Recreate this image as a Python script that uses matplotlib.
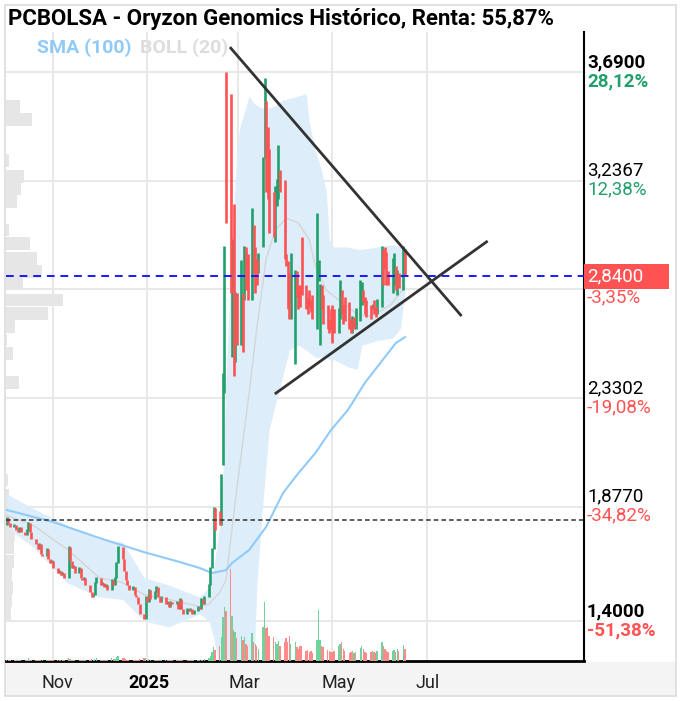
import pandas as pd
import numpy as np
import matplotlib.pyplot as plt
from matplotlib.patches import Rectangle
from matplotlib.transforms import blended_transform_factory

plt.rcParams['font.family'] = ['Roboto', 'DejaVu Sans']

# daily candles, Oct 2 2024 .. Jun 17 2025 (business days)
opens = [
    # Oct
    1.80, 1.83, 1.81, 1.79, 1.80, 1.78, 1.77, 1.79, 1.77, 1.76, 1.78, 1.81, 1.77, 1.74, 1.72, 1.70, 1.72, 1.68, 1.67, 1.70, 1.66, 1.64,
    # Nov
    1.65, 1.62, 1.60, 1.61, 1.59, 1.60, 1.58, 1.71, 1.65, 1.62, 1.63, 1.60, 1.62, 1.58, 1.57, 1.58, 1.55, 1.52, 1.50, 1.51, 1.56,
    # Dec
    1.58, 1.55, 1.56, 1.54, 1.55, 1.53, 1.57, 1.55, 1.58, 1.64, 1.71, 1.66, 1.61, 1.57, 1.55, 1.53, 1.54, 1.51, 1.50, 1.47, 1.43, 1.41,
    # Jan
    1.50, 1.48, 1.53, 1.49, 1.52, 1.54, 1.50, 1.48, 1.50, 1.47, 1.48, 1.46, 1.48, 1.47, 1.48, 1.45, 1.49, 1.45, 1.43, 1.45, 1.44, 1.45, 1.43,
    # Feb
    1.44, 1.46, 1.45, 1.49, 1.47, 1.50, 1.55, 1.62, 1.70, 1.87, 1.86, 1.80, 2.05, 2.35, 3.69, 3.60, 2.50, 3.14, 2.48, 2.77,
    # Mar
    2.55, 2.77, 2.74, 2.96, 2.93, 2.74, 3.05, 2.96, 2.91, 2.85, 2.96, 3.33, 3.57, 3.46, 3.37, 3.19, 2.98, 3.13, 3.16, 3.28, 3.24,
    # Apr
    2.93, 2.90, 2.85, 2.66, 2.47, 2.86, 2.80, 2.80, 3.00, 2.80, 2.75, 2.78, 2.74, 2.76, 2.62, 2.82, 2.55, 2.80, 2.76, 2.72, 2.66, 2.70,
    # May
    2.72, 2.70, 2.60, 2.66, 2.78, 2.72, 2.75, 2.73, 2.66, 2.60, 2.67, 2.62, 2.65, 2.72, 2.78, 2.75, 2.74, 2.72, 2.70, 2.74, 2.71, 2.68,
    # Jun
    2.71, 2.95, 2.96, 2.94, 2.86, 2.77, 2.80, 2.88, 2.76, 2.85, 2.78, 2.95,
]
closes = [
    1.83, 1.81, 1.79, 1.80, 1.78, 1.77, 1.79, 1.77, 1.76, 1.78, 1.81, 1.77, 1.74, 1.72, 1.70, 1.72, 1.68, 1.67, 1.70, 1.66, 1.64, 1.65,
    1.62, 1.60, 1.61, 1.59, 1.60, 1.58, 1.71, 1.65, 1.62, 1.63, 1.60, 1.62, 1.58, 1.57, 1.58, 1.55, 1.52, 1.50, 1.51, 1.56, 1.58,
    1.55, 1.56, 1.54, 1.55, 1.53, 1.57, 1.55, 1.58, 1.64, 1.71, 1.66, 1.61, 1.57, 1.55, 1.53, 1.54, 1.51, 1.50, 1.47, 1.43, 1.41, 1.50,
    1.48, 1.53, 1.49, 1.52, 1.54, 1.50, 1.48, 1.50, 1.47, 1.48, 1.46, 1.48, 1.47, 1.48, 1.45, 1.49, 1.45, 1.43, 1.45, 1.44, 1.45, 1.43, 1.44,
    1.46, 1.45, 1.49, 1.47, 1.50, 1.55, 1.62, 1.70, 1.87, 1.78, 1.80, 2.01, 2.43, 2.96, 3.06, 2.77, 2.99, 2.42, 2.77, 2.55,
    2.90, 2.52, 2.96, 2.78, 2.74, 3.12, 2.85, 2.77, 2.80, 2.93, 3.33, 3.66, 3.19, 3.16, 3.02, 3.00, 3.21, 3.24, 3.38, 3.19, 2.91,
    2.88, 2.70, 2.66, 2.93, 2.86, 2.75, 2.70, 2.71, 2.76, 2.70, 2.68, 2.71, 2.69, 2.66, 3.10, 2.90, 2.80, 2.70, 2.64, 2.62, 2.60, 2.62,
    2.56, 2.60, 2.70, 2.82, 2.68, 2.64, 2.65, 2.62, 2.60, 2.67, 2.62, 2.70, 2.82, 2.81, 2.73, 2.68, 2.67, 2.66, 2.72, 2.68, 2.67, 2.74,
    2.96, 2.80, 2.87, 2.80, 2.80, 2.91, 2.93, 2.78, 2.86, 2.79, 2.96, 2.84,
]
volumes = [  # millions
    0.15, 0.1, 0.12, 0.1, 0.08, 0.1, 0.12, 0.1, 0.1, 0.15, 0.3, 0.12, 0.1, 0.1, 0.12, 0.1, 0.15, 0.1, 0.1, 0.12, 0.1, 0.1,
    0.1, 0.12, 0.1, 0.1, 0.12, 0.1, 0.35, 0.25, 0.12, 0.1, 0.1, 0.1, 0.12, 0.1, 0.1, 0.12, 0.15, 0.2, 0.12, 0.25, 0.3,
    0.15, 0.1, 0.12, 0.1, 0.1, 0.3, 0.2, 0.25, 0.4, 0.5, 0.35, 0.3, 0.2, 0.15, 0.15, 0.1, 0.1, 0.1, 0.1, 0.2, 0.35, 0.3,
    0.15, 0.2, 0.15, 0.1, 0.12, 0.1, 0.1, 0.12, 0.1, 0.1, 0.1, 0.12, 0.1, 0.1, 0.1, 0.15, 0.1, 0.1, 0.12, 0.1, 0.1, 0.12, 0.1,
    0.1, 0.12, 0.15, 0.1, 0.2, 0.35, 0.5, 0.9, 1.4, 1.1, 1.6, 2.5, 4.5, 5.6, 5.2, 9.5, 4.6, 3.2, 3.0, 2.4,
    2.6, 2.2, 2.5, 1.8, 1.6, 2.9, 2.0, 1.8, 1.5, 1.2, 3.5, 6.1, 3.4, 3.5, 2.6, 2.5, 2.0, 1.8, 2.1, 1.5, 2.0,
    2.4, 2.0, 2.6, 1.8, 2.0, 1.4, 1.2, 1.5, 1.6, 1.0, 1.1, 0.9, 1.0, 0.8, 2.2, 5.3, 2.2, 1.6, 1.4, 1.1, 1.0, 0.9,
    0.9, 1.0, 1.5, 1.8, 2.0, 1.2, 1.0, 0.8, 0.9, 1.0, 0.8, 0.9, 1.3, 1.6, 1.2, 0.9, 0.8, 0.9, 1.0, 0.9, 0.8, 1.0,
    2.0, 1.5, 1.2, 1.0, 0.9, 1.0, 1.1, 0.9, 1.2, 1.0, 1.7, 1.2,
]
days = pd.bdate_range('2024-10-02', '2025-06-17')

# Bollinger (20) band
boll_dates = ['2024-10-02', '2024-10-19', '2024-11-10', '2024-12-01', '2024-12-16', '2024-12-30', '2025-01-15',
              '2025-02-04', '2025-02-10', '2025-02-13', '2025-02-17', '2025-02-19', '2025-02-21', '2025-02-25',
              '2025-02-28', '2025-03-02', '2025-03-08', '2025-03-11', '2025-03-13', '2025-03-16', '2025-03-19',
              '2025-03-21', '2025-03-25', '2025-03-29', '2025-04-03', '2025-04-09', '2025-04-14', '2025-04-16',
              '2025-04-20', '2025-04-24', '2025-04-27', '2025-04-29', '2025-05-02', '2025-05-11', '2025-05-17',
              '2025-05-20', '2025-05-30', '2025-06-09', '2025-06-14', '2025-06-17']
boll_upper = [1.93, 1.87, 1.80, 1.74, 1.73, 1.58, 1.55, 1.50, 1.54, 1.62, 1.80, 2.00, 2.40, 3.00,
              3.35, 3.46, 3.59, 3.56, 3.55, 3.54, 3.54, 3.54, 3.55, 3.57, 3.58, 3.59, 3.60, 3.48,
              3.36, 3.28, 3.19, 2.99, 2.96, 2.96, 2.95, 2.95, 2.96, 2.97, 2.96, 2.96]
boll_lower = [1.79, 1.71, 1.56, 1.50, 1.49, 1.40, 1.375, 1.43, 1.40, 1.33, 1.20, 1.05, 0.90, 0.80,
              0.80, 0.80, 0.85, 1.20, 1.54, 1.82, 2.05, 2.20, 2.30, 2.40, 2.53, 2.55, 2.53, 2.52,
              2.50, 2.50, 2.50, 2.49, 2.49, 2.46, 2.45, 2.55, 2.57, 2.58, 2.62, 2.77]
mid_dates = ['2024-10-02', '2024-10-19', '2024-11-01', '2024-11-10', '2024-12-01', '2024-12-16', '2024-12-30',
             '2025-01-15', '2025-02-04', '2025-02-10', '2025-02-17', '2025-02-21', '2025-02-28', '2025-03-08',
             '2025-03-13', '2025-03-19', '2025-03-25', '2025-04-01', '2025-04-09', '2025-04-16', '2025-04-20',
             '2025-04-27', '2025-05-05', '2025-05-17', '2025-05-26', '2025-06-08', '2025-06-14', '2025-06-17']
boll_mid = [1.84, 1.80, 1.74, 1.70, 1.58, 1.56, 1.51, 1.49, 1.46, 1.47, 1.52, 1.57, 1.95, 2.35,
            2.62, 2.91, 3.03, 3.08, 3.06, 2.99, 2.88, 2.78, 2.74, 2.68, 2.67, 2.72, 2.77, 2.79]

# SMA (100)
sma_dates = ['2024-10-02', '2024-11-01', '2024-12-01', '2024-12-30', '2025-01-22', '2025-02-04', '2025-02-12',
             '2025-02-21', '2025-02-25', '2025-03-08', '2025-03-19', '2025-03-30', '2025-04-09', '2025-04-20',
             '2025-04-30', '2025-05-11', '2025-05-22', '2025-06-01', '2025-06-11', '2025-06-17']
sma_100 = [1.863, 1.813, 1.746, 1.687, 1.646, 1.621, 1.600, 1.612, 1.642, 1.696, 1.792, 1.934, 2.017, 2.101,
           2.196, 2.280, 2.393, 2.476, 2.559, 2.584]

# volume profile (price level, relative volume)
profile_price = [1.43, 1.485, 1.54, 1.595, 1.65, 1.705, 1.76, 1.815, 1.87, 1.925, 1.988,
                 2.395, 2.514, 2.572, 2.628, 2.682, 2.739, 2.806, 2.858, 2.912, 2.975, 3.031,
                 3.150, 3.204, 3.256, 3.319, 3.492, 3.548]
profile_vol = [5, 6, 7, 6, 8, 8, 9, 7, 5, 3, 2,
               13, 7, 1, 9, 42, 57, 17, 36, 31, 24, 3,
               11, 15, 18, 3, 26, 14]

# trend lines
upper_trend = (['2025-02-23 14:00', '2025-07-23 16:00'], [3.794, 2.672])
lower_trend = (['2025-03-24 16:00', '2025-08-09 14:00'], [2.347, 2.985])

last_price = 2.84
cost_price = 1.822
grid_prices = [3.69, 3.2367, 2.7835, 2.3302, 1.877, 1.40]
price_labels = [('3,6900', '28,12%', 3.69, True), ('3,2367', '12,38%', 3.2367, False),
                ('2,3302', '-19,08%', 2.3302, False), ('1,8770', '-34,82%', 1.877, False),
                ('1,4000', '-51,38%', 1.40, True)]
month_grid = ['2024-11-01', '2025-01-01', '2025-03-01', '2025-05-01', '2025-07-01']
label_dates = ['2024-11-04', '2025-01-02', '2025-03-05', '2025-05-05', '2025-07-02']
month_labels = ['Nov', '2025', 'Mar', 'May', 'Jul']

GREEN = '#22a06b'
RED = '#ff5252'

W, H = 681, 701
fig = plt.figure(figsize=(W / 100, H / 100), dpi=100)
fig.patch.set_facecolor('white')

# outer frame and bottom strip (behind the axes)
fig.patches.append(Rectangle((5 / W, 1 - 696 / H), 671 / W, 34 / H, transform=fig.transFigure,
                             facecolor='#f4f4f4', edgecolor='none', zorder=-2))
fig.patches.append(Rectangle((5 / W, 1 - 696 / H), 671 / W, 691 / H, transform=fig.transFigure,
                             facecolor='none', edgecolor='#dcdcdc', lw=1.2, zorder=-1))

ax = fig.add_axes([6 / W, 1 - 661 / H, 578 / W, 629 / H])
ax.set_xlim(pd.Timestamp('2024-10-01 12:00'), pd.Timestamp('2025-10-11'))
ax.set_ylim(1.233, 3.857)
ax.set_facecolor('white')

# grid
for p in grid_prices:
    ax.axhline(p, color='#e8e8e8', lw=1.5, zorder=0)
for d in month_grid:
    ax.axvline(pd.Timestamp(d), color='#e8e8e8', lw=1.5, zorder=0)

# volume profile on the left
bt = blended_transform_factory(ax.transAxes, ax.transData)
pv = np.array(profile_vol, dtype=float)
ax.barh(profile_price, pv / pv.max() * 57 / 578, height=0.054, left=0, transform=bt,
        color='#e6e6e6', zorder=0.5)

# bollinger band
bd = pd.to_datetime(boll_dates)
ax.fill_between(bd, boll_lower, boll_upper, color='#ddeefa', lw=0, zorder=1)
ax.plot(pd.to_datetime(mid_dates), boll_mid, color='#d5d5d5', lw=1, zorder=1.5)
ax.plot(pd.to_datetime(sma_dates), sma_100, color='#90caf9', lw=1.5, zorder=2)

# volume bars (overlay axis, above the band)
o = np.array(opens)
c = np.array(closes)
up = c >= o
axv = ax.twinx()
axv.set_ylim(0, 65)
axv.set_xlim(ax.get_xlim())
axv.set_yticks([])
axv.patch.set_visible(False)
for s in axv.spines.values():
    s.set_visible(False)
axv.bar(days, volumes, width=0.9, color=np.where(up, '#6fd49b', '#ff8a8a'), zorder=1)

# candles
ax.vlines(days[up], o[up], c[up] + 0.004, color=GREEN, lw=1.9, zorder=3)
ax.vlines(days[~up], c[~up], o[~up], color=RED, lw=1.9, zorder=3)

# reference lines
ax.axhline(last_price, color='#1a1aff', lw=1.4, ls=(0, (4, 3)), zorder=4)
ax.axhline(cost_price, color='#333333', lw=1.1, ls=(0, (3, 2)), zorder=4)

# trend lines
for tl in (upper_trend, lower_trend):
    ax.plot(pd.to_datetime(tl[0]), tl[1], color='#333333', lw=2, solid_capstyle='butt', zorder=5)

# axes styling
for s in ['top', 'left']:
    ax.spines[s].set_visible(False)
ax.spines['right'].set_color('black')
ax.spines['right'].set_linewidth(1.5)
ax.spines['bottom'].set_color('black')
ax.spines['bottom'].set_linewidth(2)
ax.set_yticks([])
ax.set_xticks(pd.to_datetime(label_dates))
ax.set_xticklabels(month_labels)
ax.tick_params(axis='x', length=0, pad=9, labelsize=13, colors='#222222')
ax.get_xticklabels()[1].set_fontweight('bold')
ax.get_xticklabels()[1].set_color('black')

# right price labels
for price_txt, pct_txt, p, bold in price_labels:
    fw = 'bold' if bold else 'normal'
    ax.annotate(price_txt, xy=(1, p), xycoords=bt, xytext=(3, 10), textcoords='offset pixels',
                va='center', ha='left', fontsize=13.5, fontweight=fw, color='black')
    ax.annotate(pct_txt, xy=(1, p), xycoords=bt, xytext=(3, -9), textcoords='offset pixels',
                va='center', ha='left', fontsize=13.5, fontweight=fw,
                color=GREEN if not pct_txt.startswith('-') else RED)

# current price box
ax.add_patch(Rectangle((1.0, last_price - 0.054), 85 / 578, 0.104, transform=bt,
                       facecolor=RED, edgecolor='none', clip_on=False, zorder=6))
ax.annotate('2,8400', xy=(1, last_price), xycoords=bt, xytext=(3, -1), textcoords='offset pixels',
            va='center', ha='left', fontsize=13.5, color='white', zorder=7)
ax.annotate('-3,35%', xy=(1, last_price), xycoords=bt, xytext=(3, -22), textcoords='offset pixels',
            va='center', ha='left', fontsize=13.5, color=RED)

# title and legend
fig.text(8 / W, 1 - 19 / H, 'PCBOLSA - Oryzon Genomics Histórico, Renta: 55,87%',
         fontsize=16, fontweight='bold', va='center', ha='left', color='black')
fig.text(37 / W, 1 - 48 / H, 'SMA (100)', fontsize=14, fontweight='bold', color='#90caf9',
         va='center', ha='left')
fig.text(140 / W, 1 - 48 / H, 'BOLL (20)', fontsize=14, fontweight='bold', color='#dddddd',
         va='center', ha='left')

fig.savefig('out.png', dpi=100)
